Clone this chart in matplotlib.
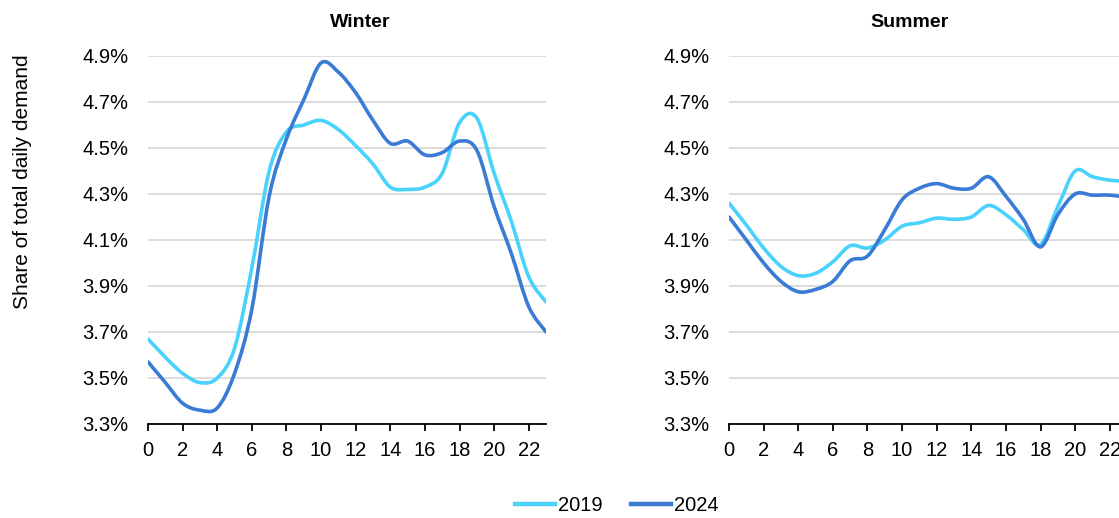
import matplotlib
matplotlib.use("Agg")
import matplotlib.pyplot as plt
from matplotlib.path import Path
from matplotlib.patches import PathPatch
from matplotlib.lines import Line2D
import numpy as np

# DATA (share of total daily demand, %, by hour of day)
hours = list(range(24))
winter_2019 = [3.67, 3.59, 3.52, 3.48, 3.50, 3.63, 3.98, 4.40, 4.57, 4.60, 4.62, 4.58,
               4.51, 4.43, 4.33, 4.32, 4.33, 4.39, 4.61, 4.63, 4.39, 4.18, 3.94, 3.83]
winter_2024 = [3.57, 3.48, 3.39, 3.36, 3.37, 3.52, 3.80, 4.29, 4.54, 4.71, 4.87, 4.83,
               4.74, 4.62, 4.52, 4.53, 4.47, 4.48, 4.53, 4.49, 4.245, 4.04, 3.81, 3.70]
summer_2019 = [4.26, 4.165, 4.065, 3.985, 3.945, 3.955, 4.005, 4.075, 4.065, 4.10, 4.16, 4.175,
               4.195, 4.19, 4.20, 4.25, 4.21, 4.145, 4.08, 4.245, 4.40, 4.375, 4.36, 4.355]
summer_2024 = [4.20, 4.10, 4.00, 3.92, 3.875, 3.885, 3.92, 4.01, 4.03, 4.145, 4.275, 4.325,
               4.345, 4.325, 4.325, 4.375, 4.29, 4.19, 4.07, 4.21, 4.30, 4.295, 4.295, 4.285]
years = ['2019', '2024']
yticks = [3.3, 3.5, 3.7, 3.9, 4.1, 4.3, 4.5, 4.7, 4.9]

# STYLE
plt.rcParams['font.family'] = ['Liberation Sans', 'DejaVu Sans']
colors = {'2019': '#48d2fc', '2024': '#3a7bd5'}
lineWidth = 2.6
fontSize = 14.5


def smooth_path(x, y):
    # Excel-like smoothed line: cubic bezier through every point (Catmull-Rom)
    pts = np.column_stack([x, y]).astype(float)
    ext = np.vstack([pts[0], pts, pts[-1]])
    verts, codes = [tuple(pts[0])], [Path.MOVETO]
    for i in range(1, len(ext) - 2):
        p0, p1, p2, p3 = ext[i - 1], ext[i], ext[i + 1], ext[i + 2]
        c1 = p1 + (p2 - p0) / 6
        c2 = p2 - (p3 - p1) / 6
        verts += [tuple(c1), tuple(c2), tuple(p2)]
        codes += [Path.CURVE4] * 3
    return Path(verts, codes)


def draw_panel(ax, title, titleX, series):
    for year, values in series.items():
        ax.add_patch(PathPatch(smooth_path(hours, values), fill=False, edgecolor=colors[year],
                               lw=lineWidth, capstyle='round', joinstyle='round', zorder=3))
    ax.set_xlim(0, 23)
    ax.set_ylim(3.3, 4.9)
    ax.set_yticks(yticks)
    ax.set_yticklabels([f"{v:.1f}%" for v in yticks])
    ax.set_xticks(range(0, 23, 2))
    ax.tick_params(axis='y', length=0, pad=14, labelsize=fontSize)
    ax.tick_params(axis='x', length=5, width=1.3, pad=7, labelsize=fontSize, direction='out')
    ax.grid(axis='y', color='#d9d9d9', lw=1.3)
    ax.set_axisbelow(True)
    for side in ['left', 'right', 'top']:
        ax.spines[side].set_visible(False)
    ax.spines['bottom'].set_linewidth(1.3)
    ax.spines['bottom'].set_zorder(4)
    fig.text(titleX, 0.957, title, ha='center', va='center', fontsize=14, fontweight='bold')


fig = plt.figure(figsize=(11.19, 5.18), dpi=100)
axWinter = fig.add_axes([0.1323, 0.1815, 0.3557, 0.7104])
axSummer = fig.add_axes([0.6515, 0.1815, 0.3557, 0.7104])

draw_panel(axWinter, 'Winter', 0.322, {'2019': winter_2019, '2024': winter_2024})
draw_panel(axSummer, 'Summer', 0.813, {'2019': summer_2019, '2024': summer_2024})

fig.text(0.02, 0.649, 'Share of total daily demand', rotation=90, ha='center', va='center',
         fontsize=15)

handles = [Line2D([], [], color=colors[y], lw=lineWidth + 0.6) for y in years]
fig.legend(handles, years, loc='center', bbox_to_anchor=(0.551, 0.025), ncol=2, frameon=False,
           fontsize=fontSize, handlelength=2.0, handletextpad=0.15, columnspacing=1.4)

fig.savefig('out.png', dpi=100)
